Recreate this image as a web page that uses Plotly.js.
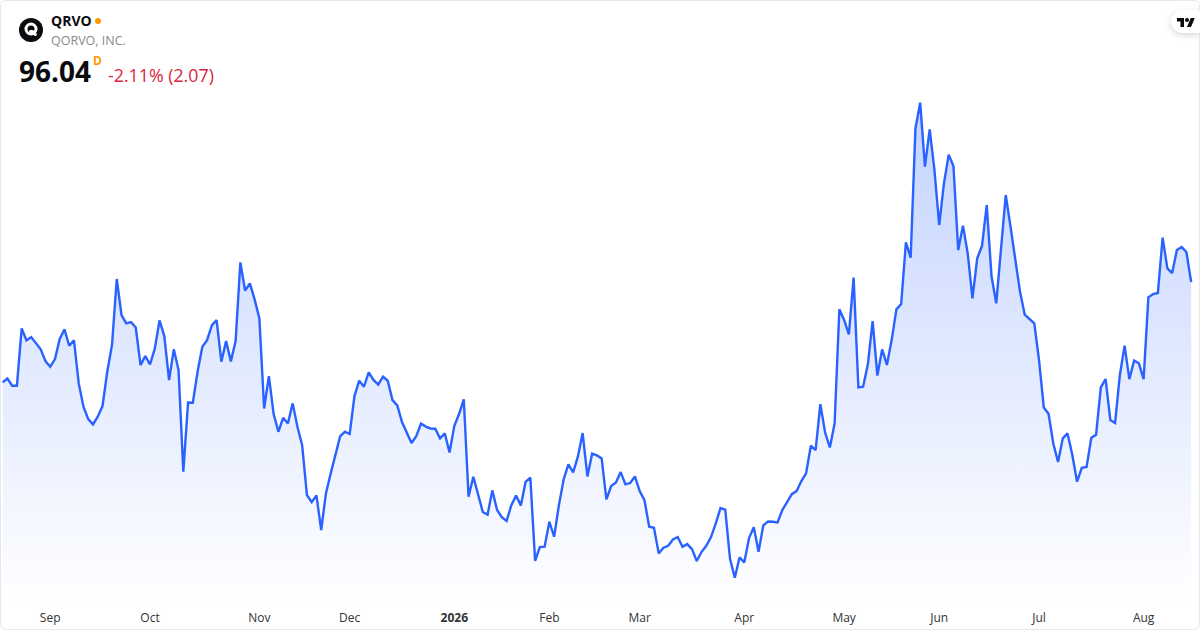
<!DOCTYPE html>
<html>
<head>
<meta charset="utf-8">
<script src="https://cdn.plot.ly/plotly-3.0.1.min.js"></script>
<style>
html,body{margin:0;padding:0;background:#fff;width:1200px;height:630px;overflow:hidden}
#chart{position:absolute;left:0;top:0;width:1200px;height:630px}
#frame{position:absolute;left:0;top:0;width:1198px;height:628px;border:1px solid #e6e8ee;border-radius:6px;pointer-events:none}
#logo{position:absolute;left:19px;top:18px;width:24px;height:24px}
#tv{position:absolute;left:1171px;top:10px;width:29px;height:23px;background:#fff;border-radius:12px 0 0 12px;box-shadow:0 2px 6px rgba(0,0,0,.16)}
#tv svg{position:absolute;left:6px;top:6px;width:18px;height:14px}
</style>
</head>
<body>
<div id="chart"></div>
<div id="frame"></div>
<svg id="logo" viewBox="0 0 24 24"><circle cx="12" cy="12" r="12" fill="#0b0b0f"/><circle cx="12" cy="11" r="5" fill="none" stroke="#fff" stroke-width="3"/><path d="M11.5 13.5c2.6-.4 4 .8 4.8 3" fill="none" stroke="#fff" stroke-width="3" stroke-linecap="round"/></svg>
<div id="tv"><svg viewBox="0 0 36 28"><path d="M14 22H7V11H0V4h14v18zM28 22h-8l7.5-18h8L28 22z" fill="#0b0b0f"/><circle cx="20" cy="8" r="4" fill="#0b0b0f"/></svg></div>
<script>
const ticker = "QRVO";
const company = "QORVO, INC.";
const lastPrice = "96.04";
const changeText = "-2.11% (2.07)";
const intervalMark = "D";

const pricesAugToOct = [89.35,89.61,89.13,89.13,92.95,92.15,92.37,91.95,91.55,90.77,90.39,90.90,92.24,92.88,91.79,92.15,89.28,87.73,86.90,86.55,87.06,87.77,90.06,91.84,96.24,93.84,93.28,93.37,93.01,90.50,91.10,90.55,91.61,93.48,92.44,89.50,91.55,90.17,83.39,88.01,87.99,90.06,91.73,92.17,93.15,93.50,90.73,92.10,90.75,92.10,97.35,95.46,95.95,94.88,93.61,87.61,89.77,87.24,86.06,86.99,86.61,87.95,86.39];
const pricesNovToJan = [85.17,81.84,81.37,81.82,79.51,81.95,83.28,84.62,85.77,86.06,85.91,88.44,89.46,89.06,90.02,89.51,89.20,89.73,89.46,88.17,87.82,86.71,86.06,85.31,85.77,86.60,86.40,86.28,86.26,85.62,85.95,84.68,86.44,87.24,88.22,81.73,83.06,81.95,80.71,80.53,82.15,80.84,80.37,80.11,81.17,81.80,81.15,82.71,83.00,77.46,78.37,78.40,80.06,79.06,81.15,82.88,83.88,83.35,84.40,85.97,83.08,84.60,84.48];
const pricesFebToApr = [84.28,81.55,82.44,82.68,83.37,82.55,82.64,83.08,82.10,81.50,79.73,79.66,77.95,78.33,78.46,78.88,79.04,78.39,78.57,78.24,77.44,78.04,78.46,79.04,79.95,80.97,80.86,77.59,76.33,77.68,77.35,78.97,79.70,78.06,79.81,80.08,80.06,80.01,80.84,81.39,81.90,82.10,82.77,83.28,85.13,84.84,87.90,86.01,85.01,86.61];
const pricesMayToJun = [94.22,93.51,92.55,96.33,89.02,89.06,90.57,93.44,89.80,91.55,90.51,92.17,94.22,94.57,98.68,97.66,106.28,108.00,103.73,106.22,103.51,99.84,102.62,104.53,103.77,98.17,99.80,97.95,94.95,97.62,98.44,101.17,96.44,94.62,98.40];
const pricesJunToAug = [101.84,99.73,97.40,95.40,93.86,93.57,93.28,90.84,87.68,87.26,85.28,84.04,85.62,85.95,84.51,82.73,83.66,83.71,85.66,85.86,89.02,89.57,86.84,86.64,89.84,91.80,89.57,90.80,90.62,89.57,95.02,95.24,95.31,99.00,96.95,96.64,98.17,98.37,98.04,96.04];
const prices = [...pricesAugToOct, ...pricesNovToJan, ...pricesFebToApr, ...pricesMayToJun, ...pricesJunToAug];
const sessions = prices.map((_, i) => i);

const tickLabels = ["Sep","Oct","Nov","Dec","<b>2026</b>","Feb","Mar","Apr","May","Jun","Jul","Aug"];
const tickSessions = [10,31,54,73,95,115,134,156,177,197,218,240];

const W = 1200, H = 630, B = 25, PH = H - B;
const FONT = '"Open Sans","Noto Sans",sans-serif';
function note(text, px, py, size, color, bold){
  return {text: bold ? "<b>"+text+"</b>" : text, xref:"paper", yref:"paper",
    x: px/W, y: 1 - py/PH, xanchor:"left", yanchor:"middle", showarrow:false,
    font:{family:FONT, size:size, color:color}, borderpad:0, borderwidth:0};
}
const trace = {
  x: sessions, y: prices, type:"scatter", mode:"lines",
  line:{color:"#2962ff", width:2.4, shape:"linear"},
  fill:"tozeroy",
  fillgradient:{type:"vertical", start:74.5, stop:108,
    colorscale:[[0,"rgba(41,98,255,0)"],[1,"rgba(41,98,255,0.28)"]]},
  hoverinfo:"skip"
};
const layout = {
  width:W, height:H, margin:{l:0,r:0,t:0,b:B,pad:0},
  paper_bgcolor:"#fff", plot_bgcolor:"#fff", showlegend:false,
  xaxis:{range:[-0.56,251.86], tickmode:"array", tickvals:tickSessions, ticktext:tickLabels,
    showgrid:false, zeroline:false, showline:false, ticks:"", ticklabelstandoff:4,
    tickfont:{family:FONT,size:12,color:"#333"}, tickangle:0, automargin:false},
  yaxis:{range:[74.51,114.84], visible:false, fixedrange:true},
  annotations:[
    note(ticker,51,21,14,"#0b0b0f",true),
    note(company,51,41,12.5,"#8a8a8a",false),
    note(lastPrice,19,71,28,"#0b0b0f",true),
    note(intervalMark,93,61,12,"#ff9800",true),
    note(changeText,108,74.5,17.8,"#d9263e",false)
  ],
  shapes:[{type:"circle",xref:"paper",yref:"paper",
    x0:95/W,x1:101/W,y0:1-24/PH,y1:1-18/PH,fillcolor:"#ff9800",line:{width:0}}]
};
Plotly.newPlot("chart",[trace],layout,{displayModeBar:false,staticPlot:true});
</script>
</body>
</html>
